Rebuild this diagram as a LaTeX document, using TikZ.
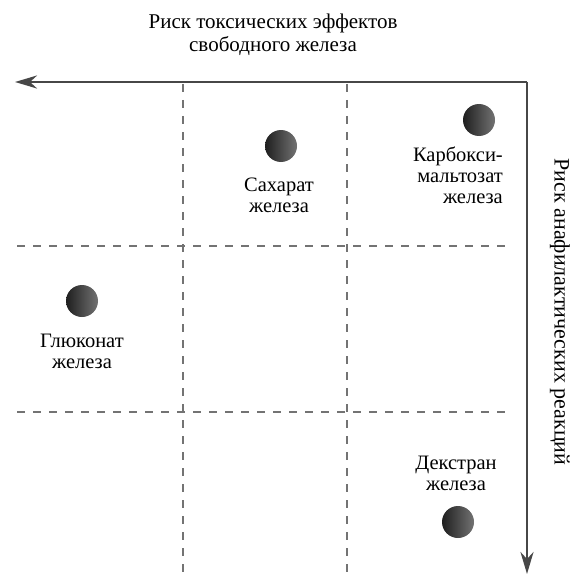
\documentclass[tikz,border=0pt]{standalone}
\usepackage{fontspec}
\setmainfont{Liberation Serif}
\usetikzlibrary{arrows.meta}
\begin{document}
\begin{tikzpicture}[x=1pt,y=-1pt,
  axis/.style={draw=black!72, line width=2.6pt, -{Stealth[length=22pt,width=13pt,inset=7pt]}},
  grid/.style={draw=black!55, line width=1.3pt, dash pattern=on 8pt off 8pt},
  lbl/.style={font=\fontsize{20.5}{21}\selectfont, align=center, inner sep=0pt},
  dot/.style={circle, minimum size=32pt, inner sep=0pt, left color=black!88, right color=black!55, shading angle=90}
]
\useasboundingbox (0,0) rectangle (573,575);
% axes
\coordinate (corner) at (527,82);
\coordinate (xend) at (15,82);
\coordinate (yend) at (527,574);
\draw[axis] (corner) -- (xend);
\draw[axis] (corner) -- (yend);
\draw[draw=black!72, line width=2.6pt] (519,82) -- (corner);
% grid
\coordinate (v1t) at (183,84); \coordinate (v1b) at (183,572);
\coordinate (v2t) at (347,84); \coordinate (v2b) at (347,572);
\coordinate (h1l) at (17,246); \coordinate (h1r) at (508,246);
\coordinate (h2l) at (17,412); \coordinate (h2r) at (508,412);
\draw[grid] (v1t) -- (v1b);
\draw[grid] (v2t) -- (v2b);
\draw[grid] (h1l) -- (h1r);
\draw[grid] (h2l) -- (h2r);
% titles
\node[lbl, font=\fontsize{21}{23}\selectfont] (xt) at (273,35) {Риск токсических эффектов\\свободного железа};
\node[lbl, font=\fontsize{22}{23}\selectfont, rotate=-90] (yt) at (560,312) {Риск анафилактических реакций};
% dots
\node[dot] (d1) at (281,146) {};
\node[dot] (d2) at (479,120) {};
\node[dot] (d3) at (82,301) {};
\node[dot] (d4) at (458,522) {};
% labels
\node[lbl] (l1) at (279,195) {Сахарат\\железа};
\node[lbl, align=right, anchor=north east] (l2) at (503,147) {Карбокси-\\мальтозат\\железа};
\node[lbl] (l3) at (82,351) {Глюконат\\железа};
\node[lbl] (l4) at (456,473) {Декстран\\железа};
\end{tikzpicture}
\end{document}
